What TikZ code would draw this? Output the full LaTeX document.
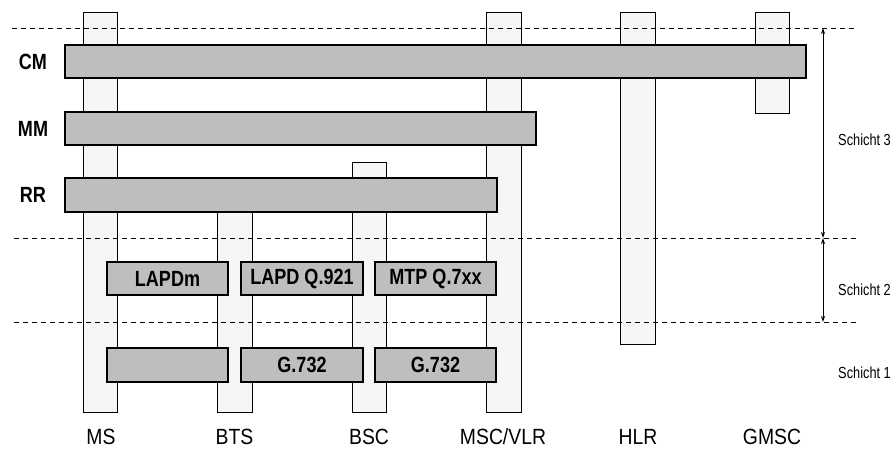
\documentclass[tikz,border=0pt]{standalone}
\usepackage{fontspec}
\setmainfont{Liberation Sans}
\newfontfamily\condfont{Liberation Sans}[FakeStretch=0.82]
\newfontfamily\nefont{Liberation Sans}[FakeStretch=0.88]
\newfontfamily\narrowfont{Liberation Sans}[FakeStretch=0.8]
\usetikzlibrary{arrows.meta}
\definecolor{barfill}{HTML}{BEBEBE}
\definecolor{colfill}{HTML}{F6F6F6}
\begin{document}
\begin{tikzpicture}[x=1pt,y=-1pt,
  colbox/.style={draw=black, line width=1pt, fill=colfill, anchor=north west, inner sep=0pt, outer sep=0pt},
  barbox/.style={draw=black, line width=1.4pt, fill=barfill, anchor=north west, inner sep=0pt, outer sep=0pt},
  bartext/.style={font=\condfont\bfseries\fontsize{22}{24}\selectfont, inner sep=0pt},
  layerlabel/.style={font=\condfont\bfseries\fontsize{22}{24}\selectfont, inner sep=0pt},
  nelabel/.style={font=\nefont\fontsize{22}{24}\selectfont, inner sep=0pt},
  schicht/.style={font=\narrowfont\fontsize{16}{18}\selectfont, inner sep=0pt, anchor=west},
  sep/.style={draw=black, line width=0.9pt, dash pattern=on 5pt off 4pt},
  dimarrow/.style={draw=black, line width=1pt, {Stealth[length=6pt,width=4pt]}-{Stealth[length=6pt,width=4pt]}}
]
\useasboundingbox (0,0) rectangle (893,448);

% columns (network elements)
\node[colbox, minimum width=34pt, minimum height=400pt] (ms)   at (83,12) {};
\node[colbox, minimum width=35pt, minimum height=200pt] (bts)  at (217,212) {};
\node[colbox, minimum width=34pt, minimum height=250pt] (bsc)  at (352,162) {};
\node[colbox, minimum width=35pt, minimum height=400pt] (msc)  at (486,12) {};
\node[colbox, minimum width=35pt, minimum height=332pt] (hlr)  at (620,12) {};
\node[colbox, minimum width=34pt, minimum height=101pt] (gmsc) at (755,12) {};

% dashed separators
\coordinate (d1a) at (12,28);  \coordinate (d1b) at (855,28);
\coordinate (d2a) at (14,238); \coordinate (d2b) at (857,238);
\coordinate (d3a) at (14,322); \coordinate (d3b) at (857,322);
\draw[sep] (d1a) -- (d1b);
\draw[sep] (d2a) -- (d2b);
\draw[sep] (d3a) -- (d3b);

% protocol bars
\node[barbox, minimum width=741pt, minimum height=33pt] (cm) at (65,45) {};
\node[barbox, minimum width=471pt, minimum height=33pt] (mm) at (65,112) {};
\node[barbox, minimum width=432pt, minimum height=34pt] (rr) at (65,178) {};
\node[barbox, minimum width=121pt, minimum height=33pt] (lapdm) at (107,262) {};
\node[barbox, minimum width=122pt, minimum height=33pt] (lapd)  at (241,262) {};
\node[barbox, minimum width=121pt, minimum height=33pt] (mtp)   at (375,262) {};
\node[barbox, minimum width=121pt, minimum height=34pt] (phy)   at (107,348) {};
\node[barbox, minimum width=122pt, minimum height=34pt] (ga)    at (241,348) {};
\node[barbox, minimum width=121pt, minimum height=34pt] (gb)    at (375,348) {};

\node[bartext] (tlapdm) at (lapdm.center) {LAPDm};
\node[bartext] (tlapd)  at (lapd.center) {LAPD Q.921};
\node[bartext] (tmtp)   at (mtp.center) {MTP Q.7xx};
\node[bartext] (tga)    at (ga.center) {G.732};
\node[bartext] (tgb)    at (gb.center) {G.732};

% layer labels
\node[layerlabel] (lcm) at (33,62) {CM};
\node[layerlabel] (lmm) at (33,128.5) {MM};
\node[layerlabel] (lrr) at (33,195) {RR};

% network element labels
\node[nelabel] (nms)   at (101,437) {MS};
\node[nelabel] (nbts)  at (234.5,437) {BTS};
\node[nelabel] (nbsc)  at (369,437) {BSC};
\node[nelabel] (nmsc)  at (503,437) {MSC/VLR};
\node[nelabel] (nhlr)  at (638,437) {HLR};
\node[nelabel] (ngmsc) at (772,437) {GMSC};

% Schicht dimension arrows
\coordinate (a3t) at (823,28);
\coordinate (a23) at (823,238);
\coordinate (a2b) at (823,322);
\draw[dimarrow] (a3t) -- (a23);
\draw[dimarrow] (a23) -- (a2b);

\node[schicht] (s3) at (838,140) {Schicht 3};
\node[schicht] (s2) at (838,290) {Schicht 2};
\node[schicht] (s1) at (838,373) {Schicht 1};
\end{tikzpicture}
\end{document}
